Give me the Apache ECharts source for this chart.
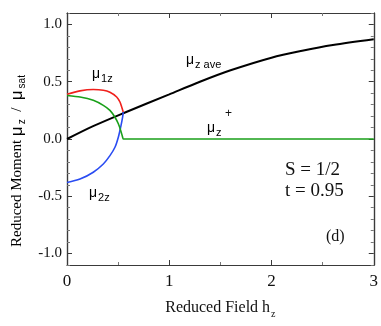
<!DOCTYPE html>
<html>
<head>
<meta charset="UTF-8">
<title>Reduced moment vs field</title>
<script type="text/javascript" src="https://cdn.jsdelivr.net/npm/echarts@6/dist/echarts.min.js"></script>
</head>
<body style="margin:0;background:#fff;">
<div id="main" style="width:381px;height:326px;"></div>
<script type="text/javascript">
// values
var hAve  = [0, 0.25, 0.55, 1.0, 1.3, 1.6, 2.0, 2.3, 2.6, 3.0];
var muAve = [0, 0.11, 0.225, 0.39, 0.50, 0.60, 0.71, 0.77, 0.82, 0.87];
var h1  = [0, 0.127, 0.257, 0.355, 0.42, 0.486, 0.518, 0.535, 0.55];
var mu1 = [0.39, 0.42, 0.432, 0.426, 0.408, 0.367, 0.323, 0.279, 0.235];
var h2  = [0, 0.127, 0.257, 0.355, 0.42, 0.469, 0.502, 0.525, 0.544, 0.55];
var mu2 = [-0.379, -0.35, -0.29, -0.218, -0.145, -0.072, 0.016, 0.104, 0.19, 0.235];
var hPlus  = [0, 0.127, 0.257, 0.355, 0.42, 0.469, 0.502, 0.525, 0.544, 0.55, 3];
var muPlus = [0.38, 0.367, 0.338, 0.294, 0.25, 0.19, 0.133, 0.075, 0.016, 0, 0];
var yMajor = [-1, -0.5, 0, 0.5, 1];
var yMinor = [-1.1, -0.9, -0.8, -0.7, -0.6, -0.4, -0.3, -0.2, -0.1, 0.1, 0.2, 0.3, 0.4, 0.6, 0.7, 0.8, 0.9, 1.1];

function pairs(xs, ys){
	var out = [];
	for (var i = 0; i < xs.length; i++) out.push([xs[i], ys[i]]);
	return out;
}

var frame = '#3a3a3a';
var serif = 'Liberation Serif';
var sans = 'Liberation Sans';

function xAx(pos){
	return {
		type: 'value', position: pos, min: 0, max: 3, interval: 1,
		axisLine: {show: true, onZero: false, lineStyle: {color: frame, width: 1.2}},
		axisTick: {show: true, inside: true, length: 5, lineStyle: {color: frame}},
		minorTick: {show: true, splitNumber: 2, length: 3, lineStyle: {color: '#777'}},
		splitLine: {show: false},
		axisLabel: {show: pos == 'bottom', margin: 8, color: '#111', fontFamily: serif, fontSize: 17},
		name: pos == 'bottom' ? '{a|Reduced Field h}{s|z}' : '',
		nameLocation: 'middle', nameGap: 32,
		nameTextStyle: {rich: {
			a: {fontFamily: serif, fontSize: 16, color: '#111'},
			s: {fontFamily: serif, fontSize: 10, color: '#111', padding: [12, 0, 0, 1]}
		}}
	};
}
function yAx(pos, ticks, len, lbl){
	return {
		type: 'value', position: pos, min: -1.1, max: 1.1,
		axisLine: {show: true, onZero: false, lineStyle: {color: frame, width: 1.2}},
		axisTick: {show: true, inside: true, length: len, customValues: ticks, lineStyle: {color: len > 4 ? frame : '#777'}},
		splitLine: {show: false},
		axisLabel: {show: lbl, customValues: yMajor, margin: 5, color: '#111', fontFamily: serif, fontSize: 15,
			formatter: function(v){ return v.toFixed(1); }}
	};
}

var sub = function(fs, pad){ return {fontFamily: sans, fontSize: fs, color: '#111', padding: [pad, 0, 0, 1]}; };
function muText(x, y, s){
	return {type: 'text', x: x, y: y, style: {
		text: '{m|μ}{s|' + s + '}',
		rich: {m: {fontFamily: sans, fontSize: 14, color: '#111'}, s: sub(11, 9)}
	}};
}

var myChart = echarts.init(document.getElementById('main'));
var option = {
	animation: false,
	grid: {left: 67, right: 7, top: 13, bottom: 61},
	xAxis: [xAx('bottom'), xAx('top')],
	yAxis: [
		yAx('left', yMajor, 5, true),
		yAx('left', yMinor, 3, false),
		yAx('right', yMajor, 5, false),
		yAx('right', yMinor, 3, false)
	],
	series: [
		{type: 'line', data: pairs(hAve, muAve), smooth: 0.3, showSymbol: false, lineStyle: {color: '#000', width: 2}},
		{type: 'line', data: pairs(h1, mu1), smooth: 0.3, showSymbol: false, lineStyle: {color: '#f0201c', width: 1.6}},
		{type: 'line', data: pairs(h2, mu2), smooth: 0.3, showSymbol: false, lineStyle: {color: '#2a4cf2', width: 1.6}},
		{type: 'line', data: pairs(hPlus, muPlus), smooth: 0.2, showSymbol: false, lineStyle: {color: '#1aa01a', width: 1.6}}
	],
	graphic: [
		{type: 'text', x: 17, y: 161, rotation: Math.PI / 2, style: {
			text: '{a|Reduced Moment }{m|μ}{s|z}{a|  /  }{m|μ}{s|sat}', align: 'center', verticalAlign: 'middle',
			rich: {
				a: {fontFamily: serif, fontSize: 15, color: '#111'},
				m: {fontFamily: sans, fontSize: 17, color: '#111'},
				s: {fontFamily: sans, fontSize: 10, color: '#111', padding: [11, 0, 0, 2]}
			}
		}},
		muText(92, 64, '1z'),
		muText(186, 50, 'z ave'),
		muText(207, 118, 'z'),
		{type: 'text', x: 225, y: 108, style: {text: '+', fontFamily: sans, fontSize: 12, fill: '#111'}},
		muText(89, 183, '2z'),
		{type: 'text', x: 285, y: 161, style: {text: 'S = 1/2', fontFamily: serif, fontSize: 19, fill: '#111'}},
		{type: 'text', x: 285, y: 182, style: {text: 't = 0.95', fontFamily: serif, fontSize: 19, fill: '#111'}},
		{type: 'text', x: 326, y: 229, style: {text: '(d)', fontFamily: serif, fontSize: 16, fill: '#111'}}
	]
};
myChart.setOption(option);
</script>
</body>
</html>
